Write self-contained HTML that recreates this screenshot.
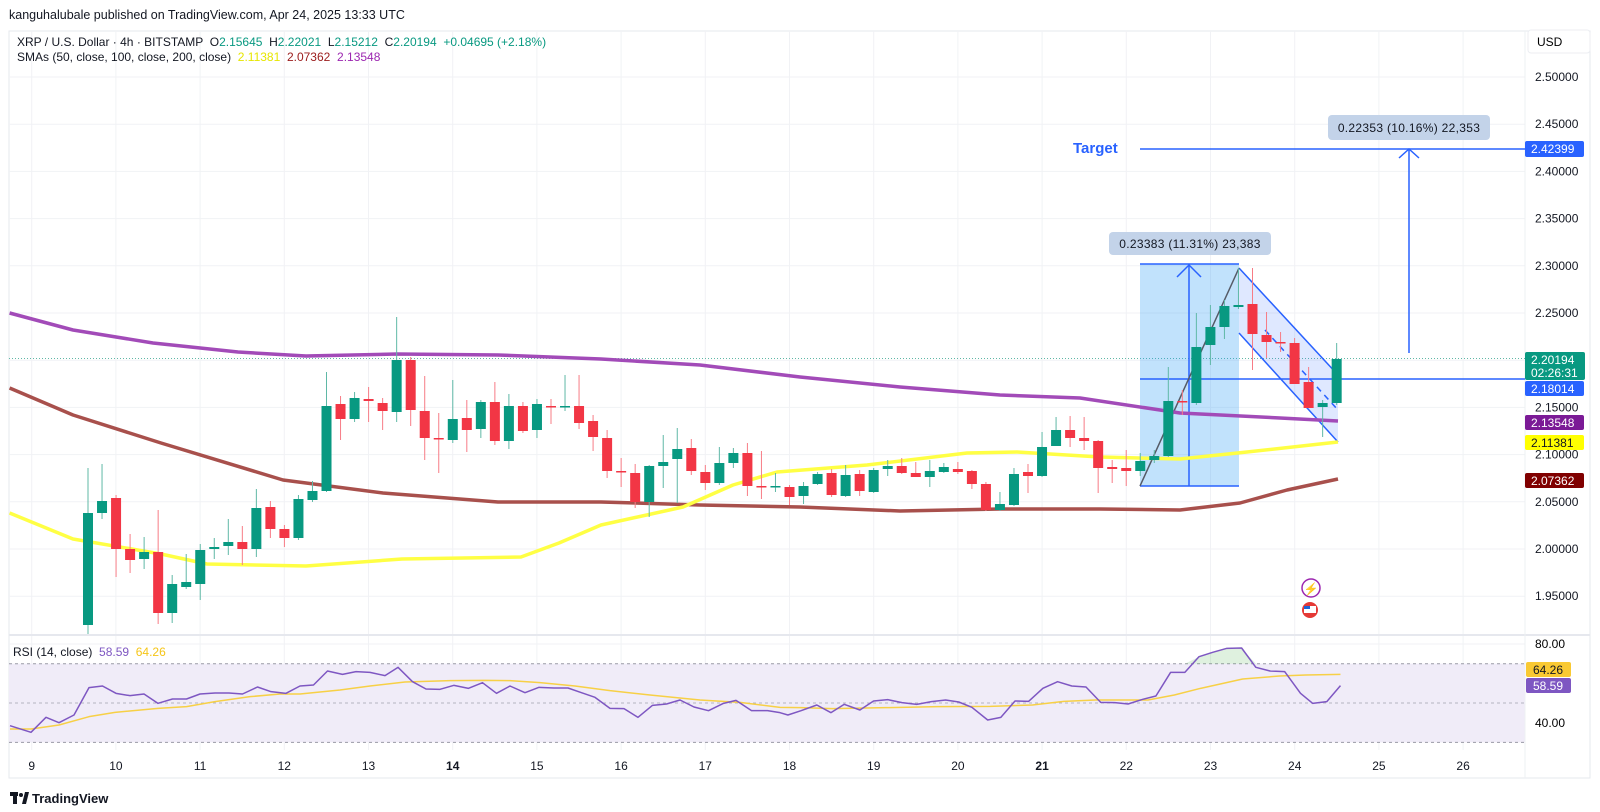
<!DOCTYPE html>
<html><head><meta charset="utf-8"><style>
body{margin:0;width:1600px;height:812px;background:#fff;overflow:hidden;font-family:"Liberation Sans",sans-serif;color:#131722}
svg{position:absolute;left:0;top:0}
text{font-family:"Liberation Sans",sans-serif}
.pre{white-space:pre}
</style></head><body>
<svg id="s" width="1600" height="812" viewBox="0 0 1600 812">
<rect x="9" y="31" width="1581" height="747" fill="none" stroke="#e6e8ee"/>
<g id="grid" stroke="#f1f2f5" stroke-width="1"></g>
<rect x="9" y="663.7" width="1516" height="78.7" fill="#f0ecf8"/>
<line x1="9" x2="1525" y1="663.7" y2="663.7" stroke="#9a9aa6" stroke-dasharray="3,3"/>
<line x1="9" x2="1525" y1="703" y2="703" stroke="#b5b5c0" stroke-dasharray="3,3"/>
<line x1="9" x2="1525" y1="742.4" y2="742.4" stroke="#9a9aa6" stroke-dasharray="3,3"/>
<line x1="9" x2="1590" y1="635" y2="635" stroke="#e6e8ee" stroke-width="2"/>
<line x1="1525" x2="1525" y1="31" y2="778" stroke="#eef0f3"/>
<line x1="9" x2="1525" y1="358.5" y2="358.5" stroke="#5fb8a6" stroke-dasharray="1,2"/>
<rect x="1140" y="264" width="99" height="222" fill="rgba(33,150,243,0.28)"/>
<line x1="1140" x2="1239" y1="264" y2="264" stroke="#2962ff" stroke-width="1.5"/>
<line x1="1140" x2="1239" y1="486" y2="486" stroke="#2962ff" stroke-width="1.5"/>
<line x1="1189" x2="1189" y1="486" y2="264" stroke="#2962ff" stroke-width="1.5"/>
<polyline points="1177,277 1189,265 1201,277" fill="none" stroke="#2962ff" stroke-width="1.5"/>
<line x1="1140" x2="1525" y1="379" y2="379" stroke="#2962ff" stroke-width="1.5"/>
<polygon points="1239,268 1338,375 1338,442 1239,333" fill="rgba(41,98,255,0.15)"/>
<line x1="1239" y1="268" x2="1338" y2="375" stroke="#2962ff" stroke-width="1.5"/>
<line x1="1239" y1="333" x2="1338" y2="442" stroke="#2962ff" stroke-width="1.5"/>
<line x1="1265" y1="330" x2="1338" y2="410" stroke="#2962ff" stroke-width="1.5" stroke-dasharray="6,5"/>
<line x1="1140" y1="486" x2="1239" y2="268" stroke="#555a66" stroke-width="1.5"/>
<g id="sma"></g>
<g id="candles"></g>
<line x1="1140" x2="1525" y1="149" y2="149" stroke="#2962ff" stroke-width="1.5"/>
<line x1="1409" x2="1409" y1="149" y2="353" stroke="#2962ff" stroke-width="1.5"/>
<polyline points="1399,158 1409,149 1419,158" fill="none" stroke="#2962ff" stroke-width="1.5"/>
<text x="1073" y="153" font-size="15" font-weight="bold" fill="#2962ff">Target</text>
<rect x="1328" y="115" width="162" height="25" rx="4" fill="#c3d3e9"/>
<text x="1409" y="132" font-size="12" text-anchor="middle" fill="#131722" letter-spacing="0.3">0.22353 (10.16%) 22,353</text>
<rect x="1109" y="232" width="162" height="23" rx="4" fill="#c3d3e9"/>
<text x="1190" y="248" font-size="12" text-anchor="middle" fill="#131722" letter-spacing="0.3">0.23383 (11.31%) 23,383</text>
<circle cx="1311" cy="588" r="9" fill="#fff" stroke="#9c27b0" stroke-width="1.5"/>
<text x="1311" y="593" font-size="12" text-anchor="middle" fill="#e91e63">⚡</text>
<circle cx="1310" cy="610" r="8" fill="#e53935"/>
<rect x="1304" y="606" width="12" height="7" fill="#fff"/>
<rect x="1304" y="606" width="6" height="3" fill="#1e63d6"/>
<g id="rsi"></g>
<g id="ax" font-size="12" fill="#131722"></g>
<rect x="1528" y="30" width="62" height="23" rx="3" fill="#fff" stroke="#eceef2"/>
<text x="1537" y="46" font-size="12">USD</text>
<rect x="1525" y="141" width="59" height="16" rx="2" fill="#2962ff"/><text x="1531" y="153" font-size="12" fill="#fff">2.42399</text>
<rect x="1525" y="352" width="60" height="28" rx="2" fill="#089981"/><text x="1531" y="364" font-size="12" fill="#fff">2.20194</text><text x="1531" y="377" font-size="12" fill="#fff">02:26:31</text>
<rect x="1525" y="381" width="59" height="15" rx="2" fill="#2962ff"/><text x="1531" y="393" font-size="12" fill="#fff">2.18014</text>
<rect x="1525" y="415" width="59" height="15" rx="2" fill="#7b1a96"/><text x="1531" y="427" font-size="12" fill="#fff">2.13548</text>
<rect x="1525" y="435" width="59" height="15" rx="2" fill="#ffff00"/><text x="1531" y="447" font-size="12" fill="#131722">2.11381</text>
<rect x="1525" y="473" width="59" height="15" rx="2" fill="#800000"/><text x="1531" y="485" font-size="12" fill="#fff">2.07362</text>
<text x="1535" y="648" font-size="12">80.00</text>
<text x="1535" y="727" font-size="12">40.00</text>
<rect x="1526" y="662" width="45" height="15" rx="2" fill="#f9c933"/><text x="1533" y="674" font-size="12" fill="#131722">64.26</text>
<rect x="1526" y="678" width="45" height="15" rx="2" fill="#7e57c2"/><text x="1533" y="690" font-size="12" fill="#fff">58.59</text>
<text x="9" y="19" font-size="12.5" fill="#131722">kanguhalubale published on TradingView.com, Apr 24, 2025 13:33 UTC</text>
<text class="pre" x="17" y="46" font-size="12" fill="#131722">XRP / U.S. Dollar · 4h · BITSTAMP  O<tspan fill="#089981">2.15645</tspan>  H<tspan fill="#089981">2.22021</tspan>  L<tspan fill="#089981">2.15212</tspan>  C<tspan fill="#089981">2.20194</tspan>  <tspan fill="#089981">+0.04695 (+2.18%)</tspan></text>
<text class="pre" x="17" y="61" font-size="12" fill="#131722">SMAs (50, close, 100, close, 200, close)  <tspan fill="#e6e600">2.11381</tspan>  <tspan fill="#9b1c1c">2.07362</tspan>  <tspan fill="#9c27b0">2.13548</tspan></text>
<text class="pre" x="13" y="656" font-size="12" fill="#131722">RSI (14, close)  <tspan fill="#7e57c2">58.59</tspan>  <tspan fill="#f5c518">64.26</tspan></text>
<rect x="10" y="792" width="8" height="4" fill="#131722"/><rect x="13" y="796" width="4" height="8" fill="#131722"/><circle cx="21" cy="795" r="2" fill="#131722"/><polygon points="22,804 25,792 29,792 26,804" fill="#131722"/>
<text x="32" y="803" font-size="13" font-weight="bold" fill="#131722">TradingView</text>
</svg>
<script>
const NS="http://www.w3.org/2000/svg";
function el(p,t,a){const e=document.createElementNS(NS,t);for(const k in a)e.setAttribute(k,a[k]);p.appendChild(e);return e;}
const Y=p=>77+(2.5-p)/0.05*47.2;
const grid=document.getElementById('grid');
for(let p=2.5;p>1.94;p-=0.05){el(grid,'line',{x1:9,x2:1525,y1:Y(p),y2:Y(p)});}
[644,683.3,722.7].forEach(y=>el(grid,'line',{x1:9,x2:1525,y1:y,y2:y}));
const ax=document.getElementById('ax');
for(let k=0;k<18;k++){const x=31.7+84.2*k;el(grid,'line',{x1:x,x2:x,y1:31,y2:750});
 const t=el(ax,'text',{x:x,y:770,'text-anchor':'middle'});t.textContent=String(9+k);if(k==5||k==12)t.setAttribute('font-weight','bold');}
[2.5,2.45,2.4,2.35,2.3,2.25,2.15,2.1,2.05,2.0,1.95].forEach(p=>{const t=el(ax,'text',{x:1535,y:Y(p)+4});t.textContent=p.toFixed(5);});
const sma=document.getElementById('sma');
const pur=[[9.6,313],[73,330],[153,343],[238,352],[306,356],[397,354],[498,355],[601,359],[700,365],[800,377],[900,387],[1000,395],[1080,398],[1180,413],[1280,418],[1338,421]];
const brn=[[9.6,388],[73,415],[161,443],[283,480],[383,493],[498,502],[601,502],[700,505],[800,507],[900,511],[1000,509],[1100,509],[1180,510],[1240,503],[1287,490],[1338,479]];
const yel=[[9.6,513],[73,539],[161,554],[207,564],[306,566],[402,559],[521,557],[559,543],[601,525],[683,507],[733,485],[777,472],[867,465],[967,453],[1017,452],[1100,457],[1180,459],[1247,452],[1338,442]];
function pl(pts,c,w,g){el(g||sma,'polyline',{points:pts.map(p=>p.join(',')).join(' '),fill:'none',stroke:c,'stroke-width':w,'stroke-linejoin':'round'});}
pl(pur,'#a24bb8',3.5);pl(brn,'#a8504c',3.5);pl(yel,'#ffff44',3.5);
const C=[[625,513,468,640],[513,501,464,519],[498,549,495,577],[549,560,534,573],[559,552,537,569],[552,613,510,624],[613,584,575,623],[587,582,554,589],[584,550,544,600],[549,547,538,559],[546,542,519,555],[542,549,526,565],[549,508,489,557],[507,529,501,538],[529,538,525,547],[538,499,495,540],[500,491,481,502],[491,406,372,492],[404,419,396,440],[419,398,392,422],[399,401,387,422],[403,411,398,430],[412,360,317,422],[360,410,357,426],[411,438,376,460],[438,439,413,473],[440,419,380,443],[418,430,400,452],[429,402,400,438],[402,441,382,445],[441,406,394,449],[406,431,402,433],[430,404,399,438],[406,407,399,424],[407,406,375,411],[406,423,375,429],[421,437,415,451],
[438,471,430,478],[471,472,458,487],[473,502,464,508],[502,466,465,517],[466,462,435,488],[459,449,428,503],[448,471,439,475],[472,483,465,490],[483,463,447,485],[463,453,448,468],[453,486,443,496],[486,487,451,499],[487,486,473,492],[487,497,485,505],[496,486,482,504],[484,474,472,485],[473,495,469,497],[496,475,465,497],[474,491,470,496],[492,470,468,493],[469,466,460,476],[466,473,458,474],[473,477,462,477],[477,471,460,487],[472,467,463,473],[469,472,462,474],[471,484,470,489],[484,510,482,511],[510,504,492,511],[505,474,468,506],[472,476,464,493],[476,447,432,477],[446,430,417,446],[430,438,416,447],[438,441,417,450],[441,468,440,493],
[467,469,460,483],[468,471,450,486],[471,461,453,476],[460,456,450,463],[456,401,367,457],[401,402,390,415],[403,347,313,405],[345,327,305,365],[327,306,300,339],[307,305,268,309],[304,334,268,370],[335,342,312,358],[342,343,332,352],[343,384,338,384],[382,408,367,408],[407,403,400,437],[403,359,343,405]];
const cg=document.getElementById('candles');
C.forEach((c,i)=>{const x=88+14.03*i;let [o,cl,h,l]=c;const up=cl<o;const col=up?'#089981':'#f23645';
 l=Math.min(l,634);const top=Math.min(o,cl),bot=Math.min(Math.max(o,cl),634);
 el(cg,'line',{x1:x,x2:x,y1:h,y2:l,stroke:up?'#5fb8a6':'#f77c86','stroke-width':1});
 el(cg,'rect',{x:x-5,y:top,width:10,height:Math.max(bot-top,1.5),fill:col});});
const r=document.getElementById('rsi');
const a8=[[20,317],[62,337],[92,292],[118,308],[148,285],[178,203],[205,198],[232,220],[260,227],[288,222],[316,250],[345,237],[373,237],[400,222],[430,219],[458,219],[485,222],[515,201],[542,215],[572,220],[600,198],[627,195],[655,153],[685,163],[712,155],[740,157],[770,167],[796,142],[825,185],[852,207],[880,208],[908,196],[937,205],[965,188],[993,220],[1020,198],[1050,218],[1078,202],[1108,204],[1136,204],[1163,218],[1190,232],[1220,265],[1248,266],[1276,292],[1305,256],[1333,252],[1360,240],[1388,261],[1417,272],[1447,250],[1472,241],[1503,272],[1535,272]].map(p=>[p[0]/2,620+p[1]/3]);
const a9=[[0,278],[15,285],[40,272],[70,255],[97,278],[122,253],[152,270],[178,243],[205,239],[232,248],[260,253],[288,245],[315,240],[340,246],[365,262],[395,300],[420,292],[447,243],[473,244],[500,205],[528,185],[555,198],[582,201],[610,247],[637,248],[662,252],[690,238],[715,228],[743,157],[770,157],[797,110],[823,97],[850,85],[878,84],[905,142],[932,153],[960,155],[990,220],[1013,250],[1040,245],[1066,197]].map(p=>[780+p[0]/1.902,620+p[1]/3]);
const m8=[[20,327],[62,327],[118,315],[178,290],[230,277],[316,265],[373,260],[430,245],[500,230],[560,222],[600,222],[680,210],[740,198],[810,186],[900,182],[970,181],[1020,182],[1080,188],[1150,198],[1220,212],[1300,225],[1400,240],[1480,247],[1560,262]].map(p=>[p[0]/2,620+p[1]/3]);
const m9=[[40,263],[100,266],[200,263],[300,260],[400,259],[480,255],[540,244],[600,240],[700,240],[750,225],[800,205],[880,177],[950,168],[1000,165],[1066,163]].map(p=>[780+p[0]/1.902,620+p[1]/3]);
el(r,'polygon',{points:'1185,663.7 1199,656.7 1212,652 1226,648 1241,648 1256,663.7',fill:'rgba(76,175,80,0.18)'});
pl(m8.concat(m9),'#f7d046',1.5,r);
pl(a8.concat(a9),'#7e57c2',1.5,r);
</script>
</body></html>
